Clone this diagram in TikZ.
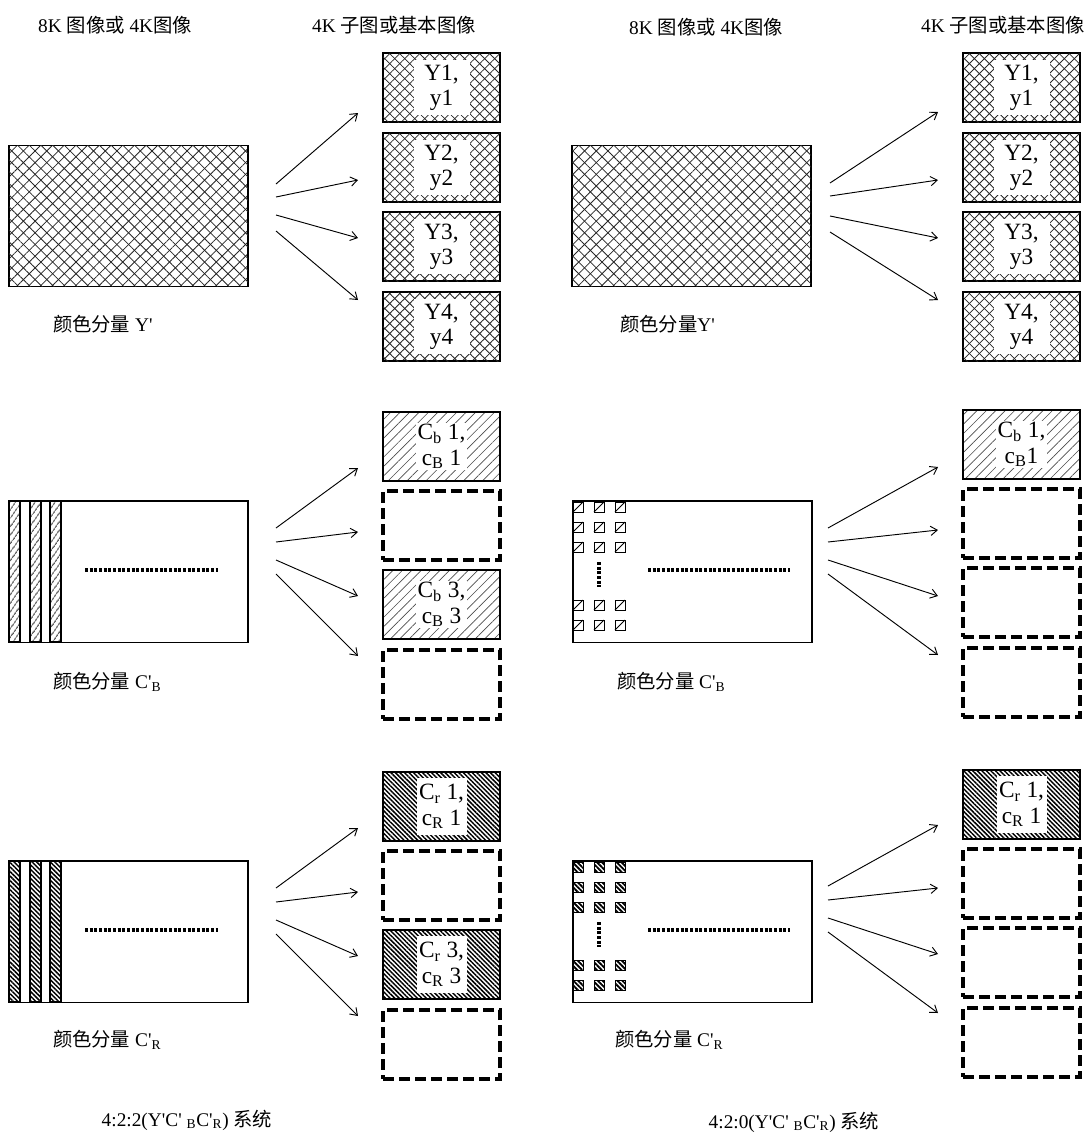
\documentclass[tikz,border=0pt]{standalone}
\usepackage{fontspec}
\setmainfont{Liberation Serif}[Ligatures=TeXOff]
\newfontfamily\cjk{Noto Sans CJK SC}
\usetikzlibrary{patterns.meta,arrows.meta}
\newcommand\zh[1]{{\cjk #1}}
\tikzset{
  every node/.style={inner sep=0pt, outer sep=0pt},
  lbl/.style={font=\fontsize{14.5}{17}\selectfont},
  bigrect/.style={draw, line width=1pt, minimum width=179.25pt, minimum height=106pt},
  sbox/.style={draw, line width=1pt, minimum width=87.75pt, minimum height=51.75pt},
  dbox/.style={draw, line width=2.3pt, dash pattern=on 8pt off 4pt, minimum width=87.75pt, minimum height=51.75pt},
  ypat/.style={pattern={Lines[angle=45,distance=#1,line width=0.6pt]}, pattern color=black!85,
     postaction={pattern={Lines[angle=-45,distance=#1,line width=0.6pt]}, pattern color=black!85}},
  bpat/.style={pattern={Lines[angle=45,distance=5pt,line width=0.5pt]}, pattern color=black!70},
  spat/.style={pattern={Lines[angle=55,distance=4pt,line width=0.7pt]}, pattern color=black},
  rpat/.style={pattern={Lines[angle=-45,distance=2.4pt,line width=1.1pt]}, pattern color=black},
  arr/.style={-{Straight Barb[length=5pt,width=7pt]}, line width=0.7pt},
  dotline/.style={line width=3pt, dash pattern=on 2.2pt off 1.3pt},
  btxt/.style={font=\fontsize{17.5}{19}\selectfont, align=center},
}
\begin{document}
\begin{tikzpicture}[x=0.75pt,y=-0.75pt]
\useasboundingbox (0,0) rectangle (1090,1133);

% ---------- titles ----------
\node[lbl] (tl1) at (115,25) {8K \zh{图像或} 4K\zh{图像}};
\node[lbl] (tl2) at (394,25) {4K \zh{子图或基本图像}};
\node[lbl] (tr1) at (706,27) {8K \zh{图像或} 4K\zh{图像}};
\node[lbl] (tr2) at (1003,25) {4K \zh{子图或基本图像}};

% ================= LEFT PANEL =================
% Y'
\node[bigrect, ypat=6.2pt] (LY) at (128.5,216) {};
\node[lbl, anchor=west] (LYl) at (53,324) {\zh{颜色分量} Y'};
\foreach \i/\c in {1/87.5,2/167.5,3/246.5,4/326.5}{
  \node[sbox, ypat=5.3pt] (LYb\i) at (441.5,\c) {};
  \node[btxt, fill=white, minimum width=42pt, minimum height=41pt] (LYt\i) at (LYb\i) {Y\i,\\y\i};
}
\foreach \i/\sy/\ey in {1/184/113,2/197/180,3/215/238,4/231/300}{
  \coordinate (LYs\i) at (276,\sy); \coordinate (LYe\i) at (358,\ey);
  \draw[arr] (LYs\i) -- (LYe\i);
}

% C'B
\node[bigrect] (LB) at (128.5,571.5) {};
\foreach \a/\b in {9/20,30/41,50/61}{
  \draw[line width=0.8pt, spat] (\a,501) rectangle (\b,642);
}
\draw[dotline] (85,570) -- (218,570);
\node[lbl, anchor=west] (LBl) at (53,682) {\zh{颜色分量} C'\textsubscript{B}};
\node[sbox, bpat] (LBb1) at (441.5,446.5) {};
\node[dbox] (LBb2) at (441.5,525.5) {};
\node[sbox, bpat] (LBb3) at (441.5,604.5) {};
\node[dbox] (LBb4) at (441.5,684.5) {};
\node[btxt, fill=white, inner sep=1pt] (LBt1) at (LBb1) {C\textsubscript{b} 1,\\c\textsubscript{B} 1};
\node[btxt, fill=white, inner sep=1pt] (LBt3) at (LBb3) {C\textsubscript{b} 3,\\c\textsubscript{B} 3};
\foreach \i/\sy/\ey in {1/528/468,2/542/532,3/560/596,4/574/656}{
  \coordinate (LBs\i) at (276,\sy); \coordinate (LBe\i) at (358,\ey);
  \draw[arr] (LBs\i) -- (LBe\i);
}

% C'R
\node[bigrect] (LR) at (128.5,931.5) {};
\foreach \a/\b in {9/20,30/41,50/61}{
  \draw[line width=0.8pt, rpat] (\a,861) rectangle (\b,1002);
}
\draw[dotline] (85,930) -- (218,930);
\node[lbl, anchor=west] (LRl) at (53,1040) {\zh{颜色分量} C'\textsubscript{R}};
\node[sbox, rpat] (LRb1) at (441.5,806.5) {};
\node[dbox] (LRb2) at (441.5,885.5) {};
\node[sbox, rpat] (LRb3) at (441.5,964.5) {};
\node[dbox] (LRb4) at (441.5,1044.5) {};
\node[btxt, fill=white, minimum width=37.5pt, minimum height=43pt] (LRt1) at (LRb1) {C\textsubscript{r} 1,\\c\textsubscript{R} 1};
\node[btxt, fill=white, minimum width=37.5pt, minimum height=43pt] (LRt3) at (LRb3) {C\textsubscript{r} 3,\\c\textsubscript{R} 3};
\foreach \i/\sy/\ey in {1/888/828,2/902/892,3/920/956,4/934/1016}{
  \coordinate (LRs\i) at (276,\sy); \coordinate (LRe\i) at (358,\ey);
  \draw[arr] (LRs\i) -- (LRe\i);
}

\node[lbl] (Lcap) at (187,1120) {4:2:2(Y'C' \textsubscript{B}C'\textsubscript{R}) \zh{系统}};

% ================= RIGHT PANEL =================
% Y'
\node[bigrect, ypat=6.2pt] (RY) at (691.5,216) {};
\node[lbl, anchor=west] (RYl) at (620,324) {\zh{颜色分量}Y'};
\foreach \i/\c in {1/87.5,2/167.5,3/246.5,4/326.5}{
  \node[sbox, ypat=5.3pt] (RYb\i) at (1021.5,\c) {};
  \node[btxt, fill=white, minimum width=42pt, minimum height=41pt] (RYt\i) at (RYb\i) {Y\i,\\y\i};
}
\foreach \i/\sy/\ey in {1/183/112,2/196/180,3/216/238,4/232/300}{
  \coordinate (RYs\i) at (830,\sy); \coordinate (RYe\i) at (938,\ey);
  \draw[arr] (RYs\i) -- (RYe\i);
}

% C'B
\node[bigrect] (RB) at (692.5,571.5) {};
\foreach \x in {573,594,615}{
  \foreach \y in {502,522,542,600,620}{
    \draw[line width=0.6pt] (\x,\y) rectangle ++(10,10);
    \draw[line width=0.6pt] (\x,\y+10) -- (\x+10,\y);
  }
}
\draw[dotline] (599,562) -- (599,587);
\draw[dotline] (648,570) -- (790,570);
\node[lbl, anchor=west] (RBl) at (617,682) {\zh{颜色分量} C'\textsubscript{B}};
\node[sbox, bpat] (RBb1) at (1021.5,444.5) {};
\node[dbox] (RBb2) at (1021.5,523.5) {};
\node[dbox] (RBb3) at (1021.5,602.5) {};
\node[dbox] (RBb4) at (1021.5,682.5) {};
\node[btxt, fill=white, inner sep=1pt] (RBt1) at (RBb1) {C\textsubscript{b} 1,\\c\textsubscript{B}1};
\foreach \i/\sy/\ey in {1/528/467,2/542/530,3/560/596,4/574/655}{
  \coordinate (RBs\i) at (828,\sy); \coordinate (RBe\i) at (938,\ey);
  \draw[arr] (RBs\i) -- (RBe\i);
}

% C'R
\node[bigrect] (RR) at (692.5,931.5) {};
\foreach \x in {573,594,615}{
  \foreach \y in {862,882,902,960,980}{
    \draw[line width=0.6pt, pattern={Lines[angle=-45,distance=2.6pt,line width=1.4pt]}, pattern color=black] (\x,\y) rectangle ++(10,10);
  }
}
\draw[dotline] (599,922) -- (599,947);
\draw[dotline] (648,930) -- (790,930);
\node[lbl, anchor=west] (RRl) at (615,1040) {\zh{颜色分量} C'\textsubscript{R}};
\node[sbox, rpat] (RRb1) at (1021.5,804.5) {};
\node[dbox] (RRb2) at (1021.5,883.5) {};
\node[dbox] (RRb3) at (1021.5,962.5) {};
\node[dbox] (RRb4) at (1021.5,1042.5) {};
\node[btxt, fill=white, minimum width=37.5pt, minimum height=43pt] (RRt1) at (RRb1) {C\textsubscript{r} 1,\\c\textsubscript{R} 1};
\foreach \i/\sy/\ey in {1/886/825,2/900/888,3/918/954,4/932/1013}{
  \coordinate (RRs\i) at (828,\sy); \coordinate (RRe\i) at (938,\ey);
  \draw[arr] (RRs\i) -- (RRe\i);
}

\node[lbl] (Rcap) at (794,1122) {4:2:0(Y'C' \textsubscript{B}C'\textsubscript{R}) \zh{系统}};
\end{tikzpicture}
\end{document}
